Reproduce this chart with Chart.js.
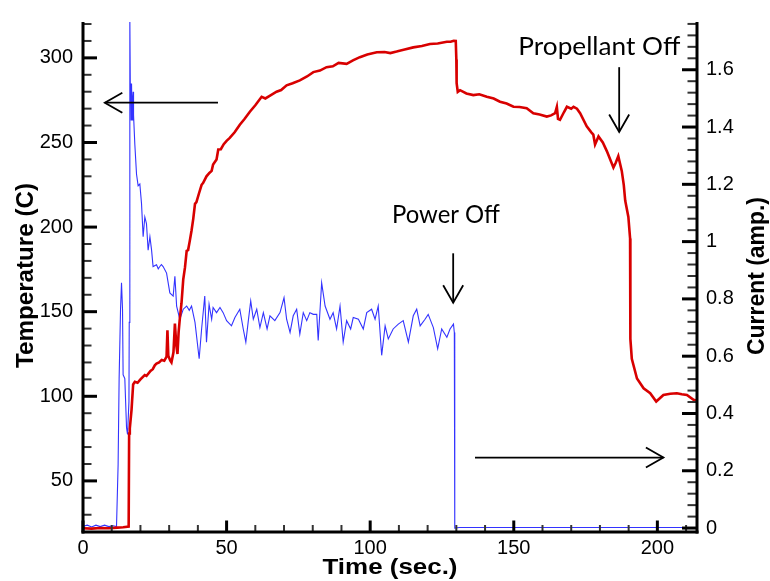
<!DOCTYPE html>
<html><head><meta charset="utf-8">
<script src="https://cdn.jsdelivr.net/npm/chart.js@4.4.1/dist/chart.umd.min.js"></script>
<style>html,body{margin:0;padding:0;background:#fff}canvas{display:block}</style>
</head><body>
<canvas id="c" width="770" height="581"></canvas>
<script>
// ---- data ----
const timeRed = [0,3,6,9,12,14,15.9,16.06,16.3,16.9,17.46,18.05,19.0,20.0,21.5,22.1,23.5,24.3,25.0,25.6,26.5,27.4,28.3,29.1,29.4,29.7,30.4,30.8,31.5,32.0,32.5,32.9,33.3,33.7,34.3,34.9,35.5,36.1,36.6,37.2,37.8,38.4,39.0,39.5,40.4,41.3,41.8,43.0,44.0,44.8,45.3,46.5,47.1,48.0,49.0,50.0,51.1,52.8,54.6,56.3,58.1,60.0,62.2,63.5,65.0,67.4,69.0,70.9,73.0,75.5,78.0,80.2,82.5,84.8,87.0,89.0,91.8,94.0,96.4,99.0,102.3,105.0,107.0,109.2,112.0,115.0,118.0,120.8,123.5,126.7,128.0,129.1,129.8,130.0,130.1,130.5,131.3,133.5,135.9,138.0,140.6,143.0,145.2,147.5,149.9,152.0,154.5,156.8,159.0,161.5,163.0,164.4,165.0,165.4,166.1,167.5,168.5,170.0,170.8,172.0,173.1,175.4,177.0,177.7,178.3,179.5,181.0,182.4,184.7,185.5,186.4,187.6,188.3,188.8,189.9,190.5,190.6,191.1,192.9,195.2,197.5,199.6,202.1,204.5,206.8,208.5,210.3,212.6,213.8];
const temperature = [22,21.8,22.2,22,22.4,22.6,23,78,81,92,107,108.6,108,110,112.5,112,115,116,118.3,119.3,120,121.5,121,123.5,139,124,121,120,126,143,130,125,138,145.6,155,169,176,186,186.4,192,198,205,213.7,214.7,220,225,226,230,232,233.2,237,240,245.9,246,249,251,252.7,256,260.5,264,268.2,272,277,276,277.5,280,281,283.8,285,286.7,289,291.6,292.5,294.5,295,297,296.5,298.5,300.4,302,303.3,303.5,302.8,303.7,305,306.2,307,308.2,308.5,309.5,309.5,310.1,310,299,285,279.9,280.9,279,278,278.5,277,276,274.1,273,271.1,271,270.2,267.3,266.5,265.3,266,267.3,271,264,263.4,268,271.1,270,271.1,270,267.3,259.5,256,254.6,248.8,253.6,250,244.9,235.2,238,241.9,233.2,225,215.7,206,193.3,133.9,122.2,110.5,104.7,101.8,96.9,100.8,101.5,101.8,101.2,100.8,97.9,97.5];

const timeBlue = [0,1.5,3,4.5,6,7.5,9,10.5,11.67,12.23,12.58,13.07,13.41,13.76,13.97,14.56,15.16,15.51,16.0,16.1,16.31,16.5,16.65,16.76,16.9,17.1,17.3,17.46,17.6,18.05,18.64,19.2,19.79,20.38,20.94,21.53,22.1,22.68,23.3,23.87,24.4,25.6,26.2,26.76,27.3,27.9,29.1,30.24,31.4,32.0,32.6,33.7,34.9,36.1,37.0,37.8,39.0,40.45,41.3,42.4,43.0,43.9,44.8,45.3,46.5,47.7,48.8,50.0,51.7,52.9,54.6,55.8,56.7,57.5,58.4,59.3,60.5,61.6,62.8,64.1,65.1,66.8,68.6,70.0,70.9,72.1,73.2,74.4,75.5,76.7,77.9,79.0,80.2,81.4,81.9,83.1,84.3,86.0,87.1,88.3,89.5,90.6,91.8,93.2,94.1,95.9,97.6,98.8,100.5,101.7,102.8,104.0,105.2,106.3,108.0,109.8,111.5,113.3,115.0,116.2,117.4,119.1,120.2,122.0,123.5,124.9,126.7,127.8,129.0,129.3,129.45,131,150,180,213.8];
const current = [0.006,0.01,0.004,0.01,0.005,0.01,0.005,0.008,0.005,0.223,0.522,0.764,0.856,0.764,0.535,0.522,0.350,0.327,0.442,0.718,1.78,1.5,1.552,1.425,1.552,1.425,1.5,1.523,1.442,1.339,1.235,1.195,1.201,1.132,1.017,1.086,1.063,0.97,1.017,0.971,0.913,0.919,0.905,0.913,0.92,0.913,0.890,0.821,0.81,0.879,0.775,0.729,0.764,0.775,0.76,0.775,0.718,0.591,0.695,0.81,0.649,0.781,0.729,0.77,0.752,0.77,0.752,0.724,0.706,0.735,0.764,0.695,0.649,0.718,0.793,0.729,0.764,0.70,0.752,0.695,0.741,0.724,0.752,0.804,0.729,0.683,0.741,0.764,0.677,0.752,0.724,0.752,0.746,0.746,0.655,0.856,0.775,0.729,0.752,0.695,0.775,0.649,0.724,0.695,0.735,0.729,0.695,0.752,0.764,0.729,0.775,0.603,0.706,0.66,0.695,0.712,0.724,0.649,0.741,0.764,0.706,0.729,0.746,0.70,0.626,0.695,0.666,0.695,0.712,0.683,0.0,0.002,0.002,0.002,0.002];

const xTicks = [0,50,100,150,200];
const xMinor = [10,20,30,40,60,70,80,90,110,120,130,140,160,170,180,190,210];
const tempTicks = [50,100,150,200,250,300];
const tempMinor = [30,40,60,70,80,90,110,120,130,140,160,170,180,190,210,220,230,240,260,270,280,290,310,320];
const currentTicks = [0,0.2,0.4,0.6,0.8,1,1.2,1.4,1.6];
const currentMinor = [0.04,0.08,0.12,0.16,0.24,0.28,0.32,0.36,0.44,0.48,0.52,0.56,0.64,0.68,0.72,0.76,0.84,0.88,0.92,0.96,1.04,1.08,1.12,1.16,1.24,1.28,1.32,1.36,1.44,1.48,1.52,1.56,1.64,1.68,1.72,1.76];

const xTitle = 'Time (sec.)';
const leftTitle = 'Temperature (C)';
const rightTitle = 'Current (amp.)';

// annotations in data coordinates (time, temperature)
const notes = [
  {text:'Propellant Off', t:151.6, T:301.8, w:162},
  {text:'Power Off', t:107.6, T:202.6, w:108}
];
const arrows = [
  {t1:47, T1:273.5, t2:7.6, T2:273.5},
  {t1:136.5, T1:63.8, t2:202.1, T2:63.8},
  {t1:186.7, T1:294.5, t2:186.7, T2:256.2},
  {t1:128.9, T1:184.5, t2:128.9, T2:155.3}
];

const redData = timeRed.map((t,i)=>({x:t,y:temperature[i]}));
const blueData = timeBlue.map((t,i)=>({x:t,y:current[i]}));

function fitText(ctx, str, x, y, font, targetW, rot, align){
  ctx.save();
  ctx.translate(x,y);
  ctx.rotate(rot);
  ctx.font = font;
  const w = ctx.measureText(str).width;
  const s = targetW / w;
  ctx.scale(s,1);
  ctx.textBaseline = 'alphabetic';
  ctx.textAlign = align;
  ctx.fillStyle = '#000';
  ctx.fillText(str,0,0);
  ctx.restore();
}

const axesPlugin = {
  id:'axesPlugin',
  afterDraw(chart){
    const ctx = chart.ctx, a = chart.chartArea;
    const xs = chart.scales.x, yl = chart.scales.y, yr = chart.scales.y1;
    const line = (x1,y1,x2,y2)=>{ctx.beginPath();ctx.moveTo(x1,y1);ctx.lineTo(x2,y2);ctx.stroke();};
    ctx.save();
    // minor ticks
    ctx.strokeStyle = '#333'; ctx.lineWidth = 2;
    xMinor.forEach(v=>{const p=xs.getPixelForValue(v); line(p,a.bottom,p,a.bottom-7);});
    tempMinor.forEach(v=>{const p=yl.getPixelForValue(v); line(a.left,p,a.left+8.5,p);});
    currentMinor.forEach(v=>{const p=yr.getPixelForValue(v); line(a.right,p,a.right-9.5,p);});
    // major ticks
    ctx.strokeStyle = '#000'; ctx.lineWidth = 3;
    xTicks.forEach(v=>{const p=xs.getPixelForValue(v); line(p,a.bottom,p,a.bottom-11.5);});
    tempTicks.forEach(v=>{const p=yl.getPixelForValue(v); line(a.left,p,a.left+14,p);});
    currentTicks.forEach(v=>{const p=yr.getPixelForValue(v); line(a.right,p,a.right-15,p);});
    // axis lines
    line(a.left,a.top,a.left,a.bottom+1.5);
    line(a.left-1.5,a.bottom,a.right+1.5,a.bottom);
    line(a.right,a.top,a.right,a.bottom+1.5);
    // axis titles
    fitText(ctx, xTitle, (a.left+a.right)/2, 574.3, 'bold 22px "Liberation Sans", Arial, sans-serif', 135, 0, 'center');
    fitText(ctx, leftTitle, 32.5, 275.5, 'bold 24px "Liberation Sans", Arial, sans-serif', 185, -Math.PI/2, 'center');
    fitText(ctx, rightTitle, 764, 276, 'bold 24px "Liberation Sans", Arial, sans-serif', 158, -Math.PI/2, 'center');
    // arrows
    ctx.strokeStyle = '#000'; ctx.lineWidth = 1.8;
    arrows.forEach(ar=>{
      const x1=xs.getPixelForValue(ar.t1), y1=yl.getPixelForValue(ar.T1);
      const x2=xs.getPixelForValue(ar.t2), y2=yl.getPixelForValue(ar.T2);
      line(x1,y1,x2,y2);
      const ang=Math.atan2(y2-y1,x2-x1), L=17.5, H=10;
      const bx=x2-L*Math.cos(ang), by=y2-L*Math.sin(ang);
      const nx=-Math.sin(ang), ny=Math.cos(ang);
      ctx.beginPath();
      ctx.moveTo(bx+H*nx,by+H*ny); ctx.lineTo(x2,y2); ctx.lineTo(bx-H*nx,by-H*ny);
      ctx.stroke();
    });
    // notes
    notes.forEach(n=>{
      fitText(ctx, n.text, xs.getPixelForValue(n.t), yl.getPixelForValue(n.T), '24.5px Lato, "Open Sans", sans-serif', n.w, 0, 'left');
    });
    ctx.restore();
  }
};

const tickFont = {family:'"Liberation Sans", Arial, sans-serif', size:20};

new Chart(document.getElementById('c'), {
  type:'line',
  data:{datasets:[
    {label:'Temperature', data:redData, yAxisID:'y', borderColor:'#d80000', borderWidth:2.6, pointRadius:0, tension:0, fill:false},
    {label:'Current', data:blueData, yAxisID:'y1', borderColor:'#3333ff', borderWidth:1.1, pointRadius:0, tension:0, fill:false}
  ]},
  options:{
    responsive:false, animation:false, devicePixelRatio:1,
    layout:{padding:{top:16,left:0,right:0,bottom:0}},
    plugins:{legend:{display:false}, tooltip:{enabled:false}},
    scales:{
      x:{type:'linear', min:0, max:213.8,
        grid:{display:false, drawTicks:false}, border:{display:false},
        ticks:{font:tickFont, color:'#000', padding:4, maxRotation:0, autoSkip:false},
        afterBuildTicks:s=>{s.ticks = xTicks.map(v=>({value:v}));},
        afterFit:s=>{s.height = 49;}},
      y:{type:'linear', position:'left', min:19.8, max:321.2,
        grid:{display:false, drawTicks:false}, border:{display:false},
        ticks:{font:tickFont, color:'#000', padding:10},
        afterBuildTicks:s=>{s.ticks = tempTicks.map(v=>({value:v}));},
        afterFit:s=>{s.width = 83;}},
      y1:{type:'linear', position:'right', min:-0.0138, max:1.7667,
        grid:{display:false, drawTicks:false}, border:{display:false},
        ticks:{font:tickFont, color:'#000', padding:9, callback:v=>String(v)},
        afterBuildTicks:s=>{s.ticks = currentTicks.map(v=>({value:v}));},
        afterFit:s=>{s.width = 73;}}
    }
  },
  plugins:[axesPlugin]
});
</script>
</body></html>
